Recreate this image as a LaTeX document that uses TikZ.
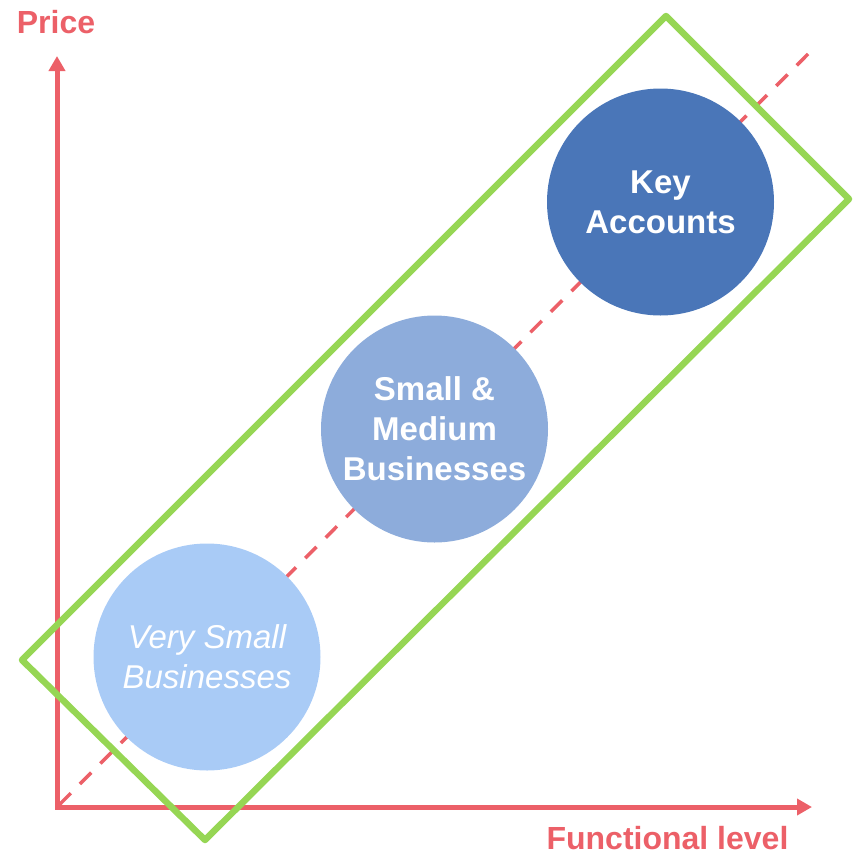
\documentclass[tikz,border=0pt]{standalone}
\usepackage{fontspec}
\setmainfont{Liberation Sans}
\usetikzlibrary{arrows.meta}
\definecolor{axisred}{RGB}{236,96,104}
\definecolor{boxgreen}{RGB}{150,214,84}
\definecolor{lightblue}{RGB}{169,203,246}
\definecolor{midblue}{RGB}{141,172,219}
\definecolor{darkblue}{RGB}{74,118,184}
\tikzset{
  segment/.style={circle,minimum size=227pt,inner sep=0pt,align=center,text=white},
  axislabel/.style={text=axisred,font=\fontsize{32}{38}\selectfont\bfseries,anchor=base}
}
\begin{document}
\begin{tikzpicture}[x=1pt,y=-1pt,line join=round,>={Triangle[length=15pt,width=16pt]}]
	\useasboundingbox (0,0) rectangle (859,857);
	\coordinate (origin) at (57,807);
	\coordinate (xend) at (812,807);
	\coordinate (yend) at (57,56);
	\coordinate (diagend) at (809,53);
	\draw[axisred,line width=5pt,->] (55,807)--(xend);
	\draw[axisred,line width=5pt,->] (57,809)--(yend);
	\draw[axisred,line width=3.5pt,dash pattern=on 16pt off 13pt,<-,>={To[length=6pt]}] (origin)--(diagend);
	\node[segment,fill=lightblue,font=\fontsize{33}{40}\selectfont\itshape] (vsb) at (207,657) {Very Small\\Businesses};
	\node[segment,fill=midblue,font=\fontsize{33}{40}\selectfont\bfseries] (smb) at (434.5,429) {Small \&\\Medium\\Businesses};
	\node[segment,fill=darkblue,font=\fontsize{33}{40}\selectfont\bfseries] (ka) at (660.5,202) {Key\\Accounts};
	\draw[boxgreen,line width=6.5pt] (22,660)--(666,16)--(849,199)--(205,840)--cycle;
	\node[axislabel] (price) at (56,33) {Price};
	\node[axislabel] (flevel) at (667.5,849) {Functional level};
\end{tikzpicture}
\end{document}
